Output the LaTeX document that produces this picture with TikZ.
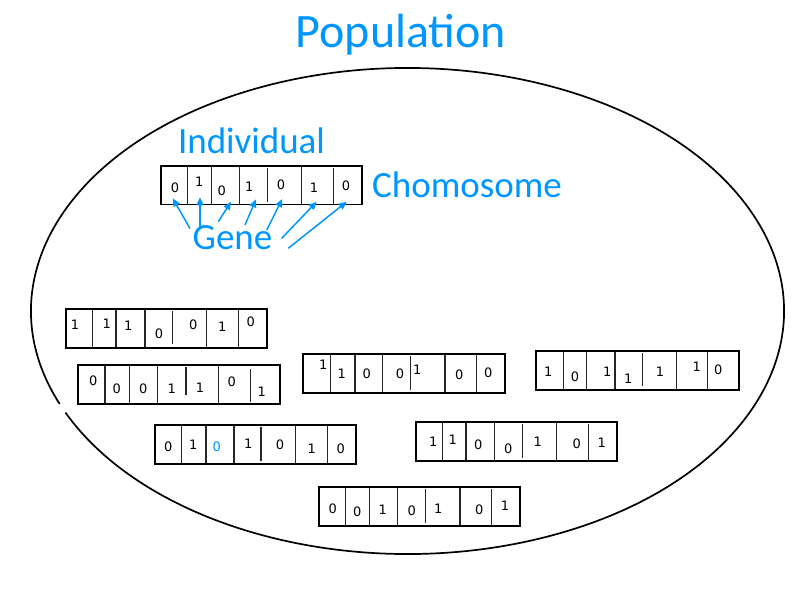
\documentclass[tikz,border=0pt]{standalone}
\usepackage{fontspec}
\setmainfont{Carlito}
\newfontfamily\digitfont{DejaVu Sans}
\usetikzlibrary{arrows.meta}
\definecolor{popblue}{RGB}{0,150,255}
\tikzset{
  chrombox/.style={draw, line width=1.8pt},
  divline/.style={line width=1.4pt, draw=black!85},
  bit/.style={font=\digitfont\fontsize{13}{13}\selectfont, inner sep=0pt},
  biglabel/.style={text=popblue, font=\fontsize{37}{37}\selectfont, inner sep=0pt, anchor=base},
  genearrow/.style={draw=popblue, line width=1.5pt, -{Triangle[length=8pt,width=7pt]}},
  outline/.style={draw, line width=1.7pt},
}
% #1 name, #2 x1, #3 y1, #4 x2, #5 y2, #6 dividers x/ya/yb, #7 digits x/y/d
\newcommand{\chrom}[7]{%
  \draw[chrombox] (#2,#3) rectangle (#4,#5);
  \foreach \dx/\da/\db in {#6} \draw[divline] (\dx,\da) -- (\dx,\db);
  \foreach \bx/\by/\bd [count=\bi] in {#7} \node[bit] (#1-\bi) at (\bx,\by) {\bd};
}
\begin{document}
\begin{tikzpicture}[x=1pt,y=-1pt]
\useasboundingbox (0,0) rectangle (800,600);
% population ellipse (small gap on lower left)
\draw[outline] ({407.5+376.5*cos(157.5)},{311+243*sin(157.5)})
  arc[start angle=157.5, end angle=515.3, x radius=376.5, y radius=243];
\node[biglabel, font=\fontsize{48}{48}\selectfont] (pop) at (401,47) {Population};
\node[biglabel] (ind) at (251.5,153) {Individual};
\node[biglabel] (chr) at (467,197) {Chomosome};
\node[biglabel] (gene) at (232.5,249) {Gene};
% individual chromosome
\chrom{c0}{161}{166}{362}{204.5}
  {187.3/167/204, 211.7/167/204, 239.3/167/204, 267.3/168/202, 301.7/167/204, 333.3/168/204}
  {175/188/0, 199.3/181.7/1, 221.7/190.7/0, 249.3/186.7/1, 281/185/0, 314/187.7/1, 346/186/0}
% gene arrows
\coordinate (s1) at (190,228.5); \coordinate (t1) at (172.7,198.3);
\coordinate (s2) at (200,227);   \coordinate (t2) at (200,197.3);
\coordinate (s3) at (218.3,221.7); \coordinate (t3) at (231,201.7);
\coordinate (s4) at (245,225);   \coordinate (t4) at (256,199.3);
\coordinate (s5) at (266.7,230); \coordinate (t5) at (282.3,199);
\coordinate (s6) at (281.7,238.3); \coordinate (t6) at (316.7,201.7);
\coordinate (s7) at (288.3,248.3); \coordinate (t7) at (346.7,201.7);
\foreach \k in {1,...,7} \draw[genearrow] (s\k) -- (t\k);
% other chromosomes
\chrom{ca}{65.7}{309}{267.3}{348.3}
  {92.3/310/347, 116/310/347, 145/310/347, 172.3/311/344, 206.7/310/347, 238.3/310/347}
  {75/325/1, 106.7/324/1, 128.3/326/1, 159/333.3/0, 193.3/325/0, 222.3/326.7/1, 250.7/321.7/0}
\chrom{cb}{78.3}{365}{280}{404}
  {105/366/403, 129.3/366/403, 157.3/366/403, 186/367/395, 218.3/366/403, 250.7/369/402}
  {93.3/380.7/0, 116.7/388.3/0, 143.3/388.3/0, 171.7/388.3/1, 200/387.3/1, 231.7/381.7/0, 261.7/391.7/1}
\chrom{cc}{303.3}{354}{505}{393.3}
  {330.7/355/392, 355/355/392, 382.7/355/392, 410.7/356/390, 445/355/392, 476.7/355/392}
  {323.3/365/1, 341.7/373.3/1, 366.7/373.3/0, 400/373.3/0, 417.3/370/1, 459.3/375/0, 488.3/372.7/0}
\chrom{cd}{536}{350.7}{739.3}{390}
  {563.3/352/389, 586.7/352/389, 615/352/389, 642.7/353/386, 676.7/352/389, 707.3/352/389}
  {548.3/371.7/1, 575/376.7/0, 607.3/371.7/1, 628.3/378.3/1, 660/371.7/1, 696.7/366.7/1, 718.3/370/0}
\chrom{ce}{155}{425}{356}{464}
  {181.7/426/463, 206/426/463, 234/426/463, 261/427/461, 295.7/426/463, 327.7/426/463}
  {168.3/446.7/0, 193.3/445/1, 216.7/446.7/\textcolor{popblue}{0}, 248.3/443.3/1, 280/445/0, 311.7/448.3/1, 340.7/448.3/0}
\chrom{cf}{415.7}{422.3}{617.3}{461}
  {442.7/423/460, 466/423/460, 494.3/423/460, 522.3/424/458, 556.7/423/460, 588.3/424/460}
  {433.3/441.7/1, 452.7/440/1, 478.3/445/0, 508.3/448.3/0, 537.7/441.7/1, 576.7/444/0, 601.7/442.7/1}
\chrom{cg}{319}{487.3}{520}{526}
  {345.7/488/525, 369.3/488/525, 397.3/488/525, 425.3/489/523, 460/488/525, 491.7/489/525}
  {332.7/508.3/0, 357.3/511.7/0, 382.7/510/1, 411.7/511/0, 438.3/508.3/1, 479.3/509.3/0, 505/506/1}
\end{tikzpicture}
\end{document}
